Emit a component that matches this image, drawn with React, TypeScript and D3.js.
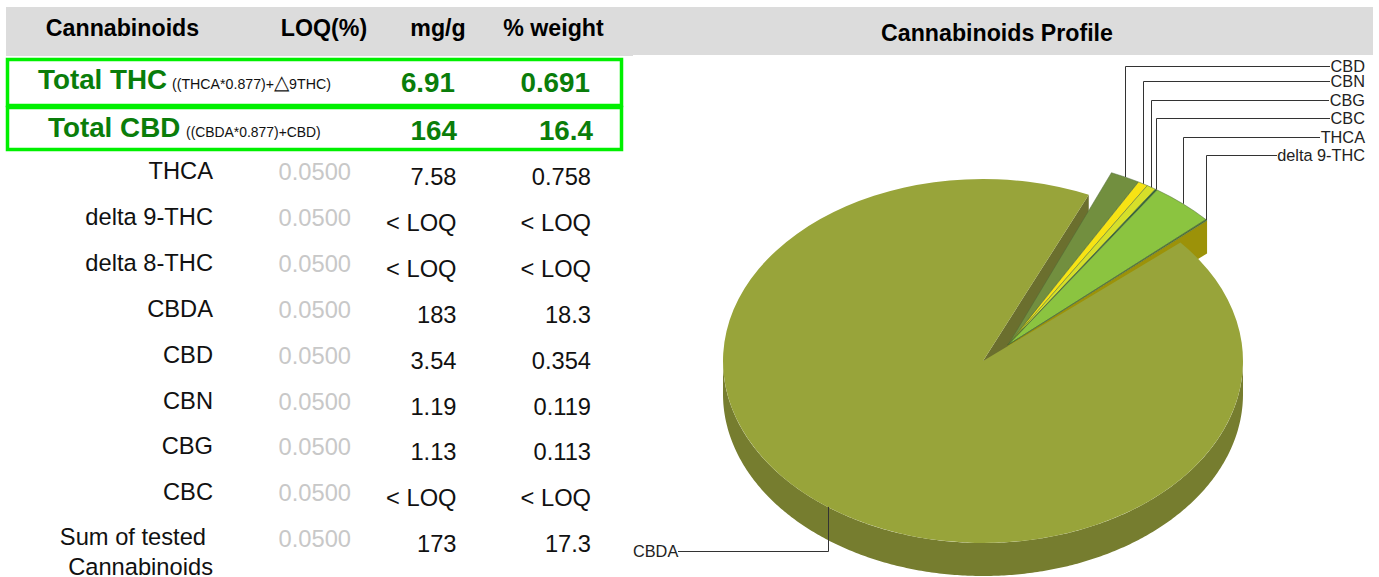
import * as d3 from "d3"

// table
const headers = ["Cannabinoids", "LOQ(%)", "mg/g", "% weight"]
const analytes = ["THCA", "delta 9-THC", "delta 8-THC", "CBDA", "CBD", "CBN", "CBG", "CBC"]
const loq = ["0.0500", "0.0500", "0.0500", "0.0500", "0.0500", "0.0500", "0.0500", "0.0500", "0.0500"]
const mgPerG = ["7.58", "< LOQ", "< LOQ", "183", "3.54", "1.19", "1.13", "< LOQ", "173"]
const pctWeight = ["0.758", "< LOQ", "< LOQ", "18.3", "0.354", "0.119", "0.113", "< LOQ", "17.3"]
const totalNames = ["Total THC", "Total CBD"]
const totalFormulas = [["((THCA*0.877)+", "\u25B3", "9THC)"], ["((CBDA*0.877)+CBD)", "", ""]]
const totalMg = ["6.91", "164"]
const totalPct = ["0.691", "16.4"]

// pie, clockwise starting at the left edge of the CBD slice
const sliceNames = ["CBD", "CBN", "CBG", "CBC", "THCA", "delta 9-THC", "CBDA"]
const sliceValues = [3.54, 1.19, 1.13, 0.25, 7.58, 0.2, 183]
const sliceColors = ["#728f3f", "#f7e314", "#d6df2a", "#2f6338", "#8bc440", "#4a7434", "#98a43a"]

const FONT = "'Liberation Sans', Arial, sans-serif"
const GREEN = "#0a7d0a"

const cx = 983
const cy = 361
const rx = 260
const squash = 0.7
const depth = 33
const shiftX = 25
const shiftY = -16
const smallR = 267
const smallTilt = (-1.2 * Math.PI) / 180 // the pulled-out slices sit slightly rotated

const pie = d3.pie<number>().sort(null).startAngle((24 * Math.PI) / 180).endAngle((384 * Math.PI) / 180)
const slices = pie(sliceValues)
const cbda = slices[slices.length - 1]
const small = slices.slice(0, -1).map(s => ({
  ...s,
  startAngle: s.startAngle + smallTilt,
  endAngle: s.endAngle + smallTilt,
}))

const arc = d3.arc<d3.PieArcDatum<number>>().innerRadius(0)
const rim = (a: number, r: number): [number, number] => [Math.sin(a) * r, -Math.cos(a) * r * squash]

const wallPath = (a0: number, a1: number) => {
  const steps = d3.range(a0, a1, 0.01).concat(a1)
  const top = steps.map(a => rim(a, rx))
  const bottom = steps.map(a => rim(a, rx)).map(p => [p[0], p[1] + depth] as [number, number]).reverse()
  return d3.line()([...top, ...bottom]) + "Z"
}

// cut face running from the apex out to the rim at angle a
const faceFrom = (a: number, r: number) => {
  const p = rim(a, r)
  return d3.line()([[0, 0], p, [p[0], p[1] + depth], [0, depth]]) + "Z"
}

const leaderYs = [66, 81, 100, 118, 137, 155]
const labelWidths = [35, 35, 36, 35, 45, 88]

export default function App() {
  const rowY = (i: number) => 171 + i * 45.9
  const smallLast = small[small.length - 1]

  return (
    <svg
      width={1379}
      height={577}
      style={{ position: "absolute", left: 0, top: 0, background: "#fff" }}
      fontFamily={FONT}
    >
      {/* header bands */}
      <rect x={6} y={7} width={627} height={49} fill="#dcdcdc" />
      <rect x={633} y={7} width={740} height={48} fill="#dcdcdc" />
      <text x={122.5} y={36} textAnchor="middle" fontSize={23.2} fontWeight="bold">{headers[0]}</text>
      <text x={324} y={36} textAnchor="middle" fontSize={23.2} fontWeight="bold">{headers[1]}</text>
      <text x={438} y={36} textAnchor="middle" fontSize={23.2} fontWeight="bold">{headers[2]}</text>
      <text x={553.5} y={36} textAnchor="middle" fontSize={23.2} fontWeight="bold">{headers[3]}</text>
      <text x={997} y={41} textAnchor="middle" fontSize={23.2} fontWeight="bold">Cannabinoids Profile</text>

      {/* highlighted totals */}
      <rect x={7.5} y={59.5} width={614} height={46} fill="none" stroke="#00f000" strokeWidth={3.5} />
      <rect x={7.5} y={107.5} width={614} height={42} fill="none" stroke="#00f000" strokeWidth={3.5} />
      {totalNames.map((name, i) => {
        const y = i === 0 ? 89 : 137
        return (
          <g key={name}>
            <text x={i === 0 ? 38 : 48} y={y} fontSize={27.8} fontWeight="bold" fill={GREEN}>{name}</text>
            <text x={i === 0 ? 172 : 186} y={y} fontSize={i === 0 ? 14.2 : 13.9} fill="#111">
              {totalFormulas[i][0]}
              <tspan fontSize={20}>{totalFormulas[i][1]}</tspan>
              {totalFormulas[i][2]}
            </text>
            <text x={i === 0 ? 455 : 457} y={y + 3} textAnchor="end" fontSize={27.8} fontWeight="bold" fill={GREEN}>{totalMg[i]}</text>
            <text x={i === 0 ? 590 : 593} y={y + 3} textAnchor="end" fontSize={27.8} fontWeight="bold" fill={GREEN}>{totalPct[i]}</text>
          </g>
        )
      })}

      {/* analyte rows */}
      {loq.map((v, i) => (
        <g key={i} fontSize={23.7}>
          {i < analytes.length ? (
            <text x={213} y={rowY(i) + 8} textAnchor="end" fill="#111">{analytes[i]}</text>
          ) : (
            <>
              <text x={206} y={rowY(i) + 7} textAnchor="end" fill="#111">Sum of tested</text>
              <text x={213} y={rowY(i) + 37} textAnchor="end" fill="#111">Cannabinoids</text>
            </>
          )}
          <text x={351} y={rowY(i) + 9} textAnchor="end" fill="#c8c8c8">{v}</text>
          <text x={456.5} y={rowY(i) + 14} textAnchor="end" fill="#111">{mgPerG[i]}</text>
          <text x={591} y={rowY(i) + 14} textAnchor="end" fill="#111">{pctWeight[i]}</text>
        </g>
      ))}

      {/* pie */}
      <g transform={`translate(${cx},${cy})`}>
        <path d={wallPath(Math.PI / 2, (3 * Math.PI) / 2)} fill="#767d2f" />
        <path d={faceFrom(cbda.endAngle, rx)} fill="#6b6f2e" />
        <g transform={`translate(${shiftX},${shiftY})`}>
          <path d={faceFrom(smallLast.endAngle, smallR)} fill="#9c9209" />
          {small.map((s, i) => (
            <path
              key={sliceNames[i]}
              d={arc({ ...s, innerRadius: 0, outerRadius: smallR } as never) as string}
              transform={`scale(1,${squash})`}
              fill={sliceColors[i]}
              stroke="#4f6b38"
              strokeWidth={0.6}
            />
          ))}
        </g>
        <path
          d={arc({ ...cbda, innerRadius: 0, outerRadius: rx } as never) as string}
          transform={`scale(1,${squash})`}
          fill={sliceColors[sliceColors.length - 1]}
        />
      </g>

      {/* leaders */}
      {small.map((s, i) => {
        const mid = (s.startAngle + s.endAngle) / 2
        const p = rim(mid, smallR)
        const x = Math.round(cx + shiftX + p[0]) + 0.5
        const y0 = cy + shiftY + p[1]
        return (
          <g key={sliceNames[i]}>
            <path
              d={d3.line()([[x, y0], [x, leaderYs[i] + 0.5], [1365 - labelWidths[i], leaderYs[i] + 0.5]]) as string}
              fill="none"
              stroke="#333"
            />
            <text x={1365} y={leaderYs[i] + 5.5} textAnchor="end" fontSize={16.3} fill="#222">{sliceNames[i]}</text>
          </g>
        )
      })}
      {(() => {
        const mid = (cbda.startAngle + cbda.endAngle) / 2
        const p = rim(mid, rx)
        const x = Math.round(cx + p[0]) + 0.5
        return (
          <g>
            <path
              d={d3.line()([[x, cy + p[1]], [x, 551.5], [678, 551.5]]) as string}
              fill="none"
              stroke="#333"
            />
            <text x={633} y={557} fontSize={16.3} fill="#222">{sliceNames[sliceNames.length - 1]}</text>
          </g>
        )
      })()}
    </svg>
  )
}
